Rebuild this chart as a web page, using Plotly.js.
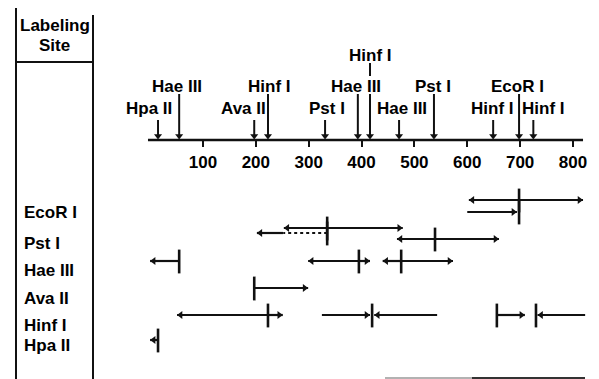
<!DOCTYPE html>
<html><head><meta charset="utf-8">
<script src="https://cdn.plot.ly/plotly-3.0.1.min.js"></script>
<style>html,body{margin:0;padding:0;background:#fff}#chart{width:599px;height:379px}</style>
</head><body><div id="chart"></div>
<script>
// ---- data ----
const tickValues = [100, 200, 300, 400, 500, 600, 700, 800];
const tickLabels = ['100', '200', '300', '400', '500', '600', '700', '800'];
const mapStart = -4, mapEnd = 819;

const siteName = ['Hpa II', 'Hae III', 'Ava II', 'Hinf I', 'Pst I', 'Hae III', 'Hinf I', 'Hae III', 'Pst I', 'Hinf I', 'EcoR I', 'Hinf I'];
const sitePos  = [15, 55, 197, 223, 331, 393, 416, 471, 537, 649, 698, 725];

const rowNames = ['EcoR I', 'Pst I', 'Hae III', 'Ava II', 'Hinf I', 'Hpa II'];

// fragments: line from segFrom to segTo, arrowhead at segTo
const segEnzyme = ['EcoR I','EcoR I','EcoR I','Pst I','Pst I','Pst I','Pst I','Pst I','Pst I','Hae III','Hae III','Hae III','Hae III','Hae III','Ava II','Hinf I','Hinf I','Hinf I','Hinf I','Hinf I','Hinf I','Hpa II'];
const segLane   = [0,0,1, 0,0,1,1,2,2, 0,0,0,0,0, 0, 0,0,0,0,0,0, 0];
const segFrom   = [698,698,600, 335,335,335,252,539,539, 55,395,395,475,475, 197, 223,223,325,543,656,823, 15];
const segTo     = [603,819,694, 253,478,252,202,467,660, 0,299,416,440,573, 299, 51,251,416,424,709,733, 0];
const segHead   = [1,1,1, 1,1,0,1,1,1, 1,1,1,1,1, 1, 1,1,1,1,1,1, 1];
const segDotted = [0,0,0, 0,0,1,0,0,0, 0,0,0,0,0, 0, 0,0,0,0,0,0, 0];

// labeled sites shown as vertical bars in each row
const barEnzyme = ['EcoR I','EcoR I','Pst I','Pst I','Pst I','Hae III','Hae III','Hae III','Ava II','Hinf I','Hinf I','Hinf I','Hinf I','Hpa II'];
const barLane   = [0,1, 0,1,2, 0,0,0, 0, 0,0,0,0, 0];
const barPos    = [698,698, 335,335,539, 55,395,475, 197, 223,420,656,730, 15];

// ---- layout constants (pixels) ----
const W = 599, H = 379;
const pxPerUnit = 0.5286, zeroPx = 150.1;
const xMin = -zeroPx / pxPerUnit, xMax = xMin + W / pxPerUnit;
const axisY = 140;
const laneY = {'EcoR I': [200, 212], 'Pst I': [228, 233, 239], 'Hae III': [261], 'Ava II': [288], 'Hinf I': [315], 'Hpa II': [340]};
const rowLabelY = [212, 243, 270, 298, 325, 345];
const siteTier = [2, 1, 2, 1, 2, 1, 0, 2, 1, 2, 1, 2];
const tierLabelY = [55, 86, 108];
const tierLineTop = [94, 94, 120];
const siteLabelShift = [-9, -2, -11, 2, 2, -2, 0, 3, -1, -1, -2, 10];
const FONT = {family: 'Liberation Sans, Arial, sans-serif', size: 17, color: '#000', weight: 'bold'};
const INK = '#111';

// ---- traces ----
const solidX = [], solidY = [], dotX = [], dotY = [];
const headX = [], headY = [], headSym = [];
const off = 3.5 / pxPerUnit;
segFrom.forEach((f, i) => {
  const y = laneY[segEnzyme[i]][segLane[i]];
  const t = segTo[i];
  if (segDotted[i]) { dotX.push(f, t, null); dotY.push(y, y, null); }
  else { solidX.push(f, t, null); solidY.push(y, y, null); }
  if (segHead[i]) {
    const dir = t > f ? 1 : -1;
    headX.push(t - dir * off); headY.push(y);
    headSym.push(dir > 0 ? 'triangle-right' : 'triangle-left');
  }
});

const barX = [], barY = [];
barPos.forEach((p, i) => { barX.push(p); barY.push(laneY[barEnzyme[i]][barLane[i]] + 0.5); });

const siteLX = [], siteLY = [], siteHX = [], siteHY = [];
sitePos.forEach((p, i) => {
  const tier = siteTier[i];
  if (tier === 0) { siteLX.push(p, p, null); siteLY.push(63, 76, null); }
  siteLX.push(p, p, null); siteLY.push(tierLineTop[tier], axisY - 3, null);
  siteHX.push(p); siteHY.push(axisY - 4);
});

const traces = [
  {x: solidX, y: solidY, mode: 'lines', line: {color: INK, width: 2.2}, hoverinfo: 'skip'},
  {x: dotX, y: dotY, mode: 'lines', line: {color: INK, width: 2.2, dash: 'dot'}, hoverinfo: 'skip'},
  {x: headX, y: headY, mode: 'markers', marker: {symbol: headSym, size: 7, color: INK}, hoverinfo: 'skip'},
  {x: barX, y: barY, mode: 'markers', marker: {symbol: 'line-ns', size: 17, line: {color: INK, width: 2.6}}, hoverinfo: 'skip'},
  {x: siteLX, y: siteLY, mode: 'lines', line: {color: INK, width: 2}, hoverinfo: 'skip'},
  {x: siteHX, y: siteHY, mode: 'markers', marker: {symbol: 'triangle-down', size: 7, color: INK}, hoverinfo: 'skip'}
];

// ---- annotations ----
const ann = [];
sitePos.forEach((p, i) => {
  ann.push({x: p, y: tierLabelY[siteTier[i]], xref: 'x', yref: 'y', text: siteName[i], showarrow: false,
            xanchor: 'center', yanchor: 'middle', xshift: siteLabelShift[i], font: FONT});
});
rowNames.forEach((r, i) => {
  ann.push({x: 22 / W, y: rowLabelY[i], xref: 'paper', yref: 'y', text: r, showarrow: false,
            xanchor: 'left', yanchor: 'middle', font: FONT});
});
ann.push({x: 55 / W, y: 25, xref: 'paper', yref: 'y', text: 'Labeling', showarrow: false, xanchor: 'center', yanchor: 'middle', font: FONT});
ann.push({x: 55 / W, y: 45, xref: 'paper', yref: 'y', text: 'Site', showarrow: false, xanchor: 'center', yanchor: 'middle', font: FONT});

// ---- shapes ----
const shapes = [
  {type: 'line', xref: 'x', yref: 'y', x0: mapStart, x1: mapEnd, y0: axisY, y1: axisY, line: {color: INK, width: 2.5}},
  {type: 'line', xref: 'paper', yref: 'y', x0: 16 / W, x1: 16 / W, y0: 8, y1: H, line: {color: INK, width: 2}},
  {type: 'line', xref: 'paper', yref: 'y', x0: 93 / W, x1: 93 / W, y0: 15, y1: H, line: {color: INK, width: 2}},
  {type: 'line', xref: 'paper', yref: 'y', x0: 16 / W, x1: 93 / W, y0: 62, y1: 62, line: {color: INK, width: 2}},
  {type: 'line', xref: 'paper', yref: 'y', x0: 385 / W, x1: 472 / W, y0: 378, y1: 378, line: {color: '#999', width: 1.5}},
  {type: 'line', xref: 'paper', yref: 'y', x0: 472 / W, x1: 585 / W, y0: 378, y1: 378, line: {color: '#333', width: 2}}
];

const layout = {
  width: W, height: H, margin: {l: 0, r: 0, t: 0, b: 0},
  paper_bgcolor: '#fff', plot_bgcolor: '#fff', showlegend: false,
  xaxis: {range: [xMin, xMax], anchor: 'free', position: 1 - axisY / H, side: 'bottom',
          tickvals: tickValues, ticktext: tickLabels, ticks: 'outside', ticklen: 6, tickwidth: 2, tickcolor: INK,
          ticklabelstandoff: 1, showgrid: false, zeroline: false, showline: false, tickfont: FONT, fixedrange: true},
  yaxis: {range: [H, 0], visible: false, fixedrange: true},
  annotations: ann, shapes: shapes
};

Plotly.newPlot('chart', traces, layout, {staticPlot: true});
</script></body></html>
